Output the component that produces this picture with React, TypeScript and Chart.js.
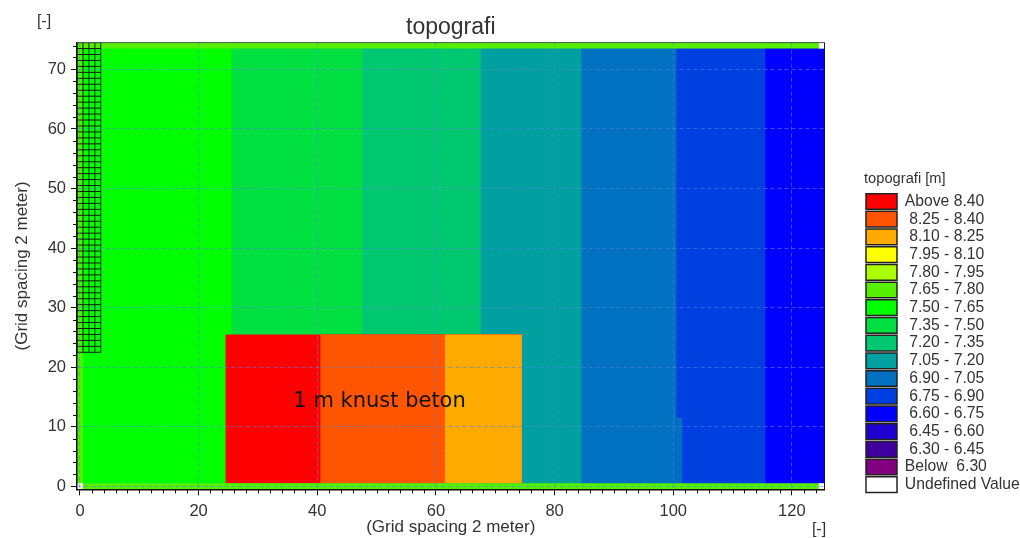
import React, { useEffect, useRef } from "react";
import { Chart, registerables } from "chart.js";

Chart.register(...registerables);

// Legend classes
const classLabels = ["Above 8.40", " 8.25 - 8.40", " 8.10 - 8.25", " 7.95 - 8.10", " 7.80 - 7.95", " 7.65 - 7.80", " 7.50 - 7.65", " 7.35 - 7.50", " 7.20 - 7.35", " 7.05 - 7.20", " 6.90 - 7.05", " 6.75 - 6.90", " 6.60 - 6.75", " 6.45 - 6.60", " 6.30 - 6.45", "Below  6.30", "Undefined Value"];
const classColors = ["#ff0000", "#ff5500", "#ffaa00", "#ffff00", "#aaff00", "#55f000", "#00ff00", "#00e040", "#00c870", "#00a0a0", "#0070c0", "#0040e0", "#0000ff", "#2000d0", "#4000a0", "#800080", "#ffffff"];

// Map zones, in grid coordinates, painted in order (later zones cover earlier ones)
const zoneClass = [6, 7, 8, 9, 10, 11, 10, 12, 0, 1, 2, 5, 5, 5, 16, 16, 16];
const zoneX0 = [-0.5, 25.5, 47.5, 67.5, 84.5, 100.5, 100.5, 115.5, 24.5, 40.5, 61.5, -0.5, -0.5, -0.5, 124.5, 124.5, -0.5];
const zoneX1 = [125.5, 125.5, 125.5, 125.5, 125.5, 125.5, 101.5, 125.5, 74.5, 74.5, 74.5, 125.5, 125.5, 0.5, 125.5, 125.5, 0.5];
const zoneY0 = [-0.5, -0.5, -0.5, -0.5, -0.5, -0.5, -0.5, -0.5, 0.5, 0.5, 0.5, -0.5, 73.5, -0.5, -0.5, 73.5, -0.5];
const zoneY1 = [74.5, 74.5, 74.5, 74.5, 74.5, 74.5, 11.5, 74.5, 25.5, 25.5, 25.5, 0.5, 74.5, 74.5, 0.5, 74.5, 0.5];

// Mesh drawn over the upper left corner
const meshX = [-0.5, 0.5, 1.5, 2.5, 3.5];
const meshY = [22.5, 23.5, 24.5, 25.5, 26.5, 27.5, 28.5, 29.5, 30.5, 31.5, 32.5, 33.5, 34.5, 35.5, 36.5, 37.5, 38.5, 39.5, 40.5, 41.5, 42.5, 43.5, 44.5, 45.5, 46.5, 47.5, 48.5, 49.5, 50.5, 51.5, 52.5, 53.5, 54.5, 55.5, 56.5, 57.5, 58.5, 59.5, 60.5, 61.5, 62.5, 63.5, 64.5, 65.5, 66.5, 67.5, 68.5, 69.5, 70.5, 71.5, 72.5, 73.5, 74.5];

// Axes
const xTicks = [0, 20, 40, 60, 80, 100, 120];
const yTicks = [0, 10, 20, 30, 40, 50, 60, 70];
const xMinorTicks = [2, 4, 6, 8, 10, 12, 14, 16, 18, 22, 24, 26, 28, 30, 32, 34, 36, 38, 42, 44, 46, 48, 50, 52, 54, 56, 58, 62, 64, 66, 68, 70, 72, 74, 76, 78, 82, 84, 86, 88, 90, 92, 94, 96, 98, 102, 104, 106, 108, 110, 112, 114, 116, 118, 122, 124];
const yMinorTicks = [2, 4, 6, 8, 12, 14, 16, 18, 22, 24, 26, 28, 32, 34, 36, 38, 42, 44, 46, 48, 52, 54, 56, 58, 62, 64, 66, 68, 72, 74];

const titleText = "topografi";
const axisText = "(Grid spacing 2 meter)";
const unitText = "[-]";
const legendTitle = "topografi [m]";
const noteText = "1 m knust beton";
const noteX = 50.5;
const noteY = 14.2;

const sans = "'Liberation Sans', Arial, sans-serif";
const textColor = "#333333";
const gridColor = "rgba(80,130,225,0.6)";

const zoneDatasets = zoneClass.map((cls, i) => ({
  type: "line" as const,
  data: [
    { x: zoneX0[i], y: zoneY1[i] },
    { x: zoneX1[i], y: zoneY1[i] },
  ],
  fill: { value: zoneY0[i] },
  backgroundColor: classColors[cls],
  borderWidth: 0,
  pointRadius: 0,
  order: zoneClass.length - i + 2,
}));

const meshPoints: { x: number; y: number }[] = [];
meshX.forEach((x) => {
  meshPoints.push({ x, y: meshY[0] }, { x, y: meshY[meshY.length - 1] }, { x, y: NaN });
});
meshY.forEach((y) => {
  meshPoints.push({ x: meshX[0], y }, { x: meshX[meshX.length - 1], y }, { x: NaN, y });
});

const meshDataset = {
  type: "line" as const,
  data: meshPoints,
  borderColor: "#102010",
  borderWidth: 1,
  pointRadius: 0,
  fill: false,
  spanGaps: false,
  order: 1,
};

const extras = {
  id: "extras",
  afterLayout(chart: any) {
    const lg = chart.legend;
    const w = lg.width;
    const h = lg.height;
    lg.left = 864;
    lg.right = 864 + w;
    lg.top = 172;
    lg.bottom = 172 + h;
  },
  afterDraw(chart: any) {
    const { ctx, scales, chartArea } = chart;
    const { x, y } = scales;
    ctx.save();
    ctx.strokeStyle = "#111111";
    ctx.lineWidth = 1;
    ctx.beginPath();
    xMinorTicks.forEach((v) => {
      const px = Math.round(x.getPixelForValue(v)) + 0.5;
      ctx.moveTo(px, y.bottom);
      ctx.lineTo(px, y.bottom + 4);
    });
    yMinorTicks.forEach((v) => {
      const py = Math.round(y.getPixelForValue(v)) + 0.5;
      ctx.moveTo(x.left, py);
      ctx.lineTo(x.left - 4, py);
    });
    ctx.stroke();
    // Frame on the two sides that have no axis
    ctx.beginPath();
    ctx.strokeStyle = "#4a5a48";
    ctx.moveTo(chartArea.left, chartArea.top);
    ctx.lineTo(chartArea.right, chartArea.top);
    ctx.stroke();
    ctx.beginPath();
    ctx.strokeStyle = "#111133";
    ctx.moveTo(chartArea.right, chartArea.top);
    ctx.lineTo(chartArea.right, chartArea.bottom);
    ctx.stroke();
    ctx.fillStyle = "#111111";
    ctx.font = `21px 'DejaVu Sans', sans-serif`;
    ctx.textAlign = "center";
    ctx.textBaseline = "middle";
    ctx.fillText(noteText, x.getPixelForValue(noteX), y.getPixelForValue(noteY));
    ctx.fillStyle = textColor;
    ctx.font = `16px ${sans}`;
    ctx.fillText(unitText, 44, 22);
    ctx.fillText(unitText, 819, 530);
    ctx.restore();
  },
};

export default function App() {
  const ref = useRef<HTMLCanvasElement>(null);
  useEffect(() => {
    if (!ref.current) return;
    const chart = new Chart(ref.current, {
      type: "line",
      data: { datasets: [meshDataset, ...zoneDatasets] as any },
      plugins: [extras],
      options: {
        animation: false,
        responsive: false,
        layout: { padding: { left: 0, right: 195.5, top: 0, bottom: 0 } },
        scales: {
          x: {
            type: "linear",
            min: -0.5,
            max: 125.5,
            afterBuildTicks: (s: any) => {
              s.ticks = xTicks.map((value) => ({ value }));
            },
            afterFit: (s: any) => {
              s.height = 48.7;
            },
            ticks: { color: textColor, font: { size: 16.5, family: sans }, maxRotation: 0, padding: 6, autoSkip: false },
            border: { color: "#111111", width: 1.5, dash: [4, 3], z: 2 },
            grid: { z: 1, color: gridColor, tickColor: "#111111", tickLength: 6, tickBorderDash: [] },
            title: { display: true, text: axisText, color: textColor, font: { size: 17, family: sans }, padding: { top: 0, bottom: 0 } },
          },
          y: {
            type: "linear",
            min: -0.5,
            max: 74.5,
            afterBuildTicks: (s: any) => {
              s.ticks = yTicks.map((value) => ({ value }));
            },
            afterFit: (s: any) => {
              s.width = 77;
            },
            ticks: { color: textColor, font: { size: 16.5, family: sans }, padding: 5, autoSkip: false },
            border: { color: "#111111", width: 1.5, dash: [4, 3], z: 2 },
            grid: { z: 1, color: gridColor, tickColor: "#111111", tickLength: 6, tickBorderDash: [] },
            title: { display: true, text: axisText, color: textColor, font: { size: 17, family: sans }, padding: { top: 12, bottom: 0 } },
          },
        },
        plugins: {
          tooltip: { enabled: false },
          title: {
            display: true,
            fullSize: false,
            text: titleText,
            color: textColor,
            font: { size: 23, family: sans, weight: "normal" },
            padding: { top: 14, bottom: 1 },
          },
          legend: {
            display: true,
            position: "chartArea" as any,
            align: "start",
            title: { display: true, position: "start", text: legendTitle, color: textColor, font: { size: 14.7, family: sans }, padding: { top: 0, bottom: 2 } },
            labels: {
              boxWidth: 31,
              boxHeight: 15.7,
              padding: 2,
              color: textColor,
              font: { size: 15.7, family: sans },
              generateLabels: () =>
                classLabels.map((text, i) => ({
                  text,
                  fillStyle: classColors[i],
                  strokeStyle: "#222222",
                  lineWidth: 1.5,
                  hidden: false,
                  datasetIndex: 0,
                })),
            },
          },
        },
      },
    });
    return () => chart.destroy();
  }, []);
  return (
    <div style={{ position: "fixed", left: 0, top: 0, width: 1020, height: 538, background: "#ffffff" }}>
      <canvas ref={ref} width={1020} height={538} style={{ display: "block" }} />
    </div>
  );
}
